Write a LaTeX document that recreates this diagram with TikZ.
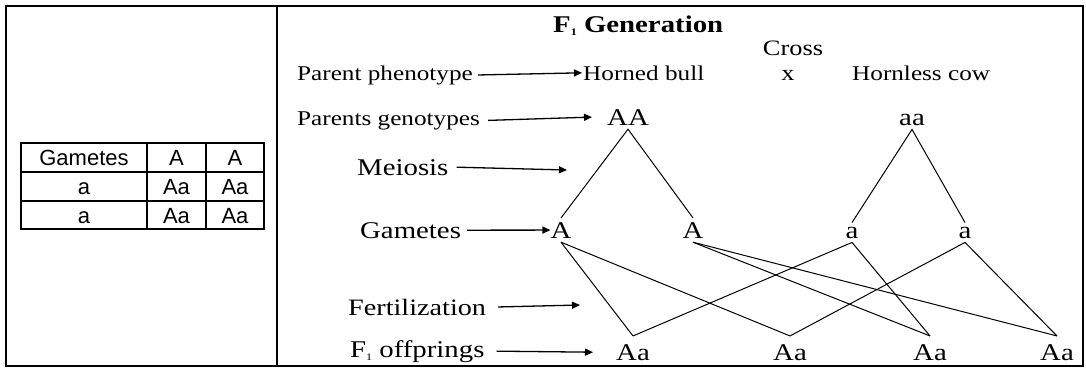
\documentclass[tikz,border=0pt]{standalone}
\usepackage{fontspec}
\setmainfont{Liberation Serif}[FakeStretch=1.2]
\newfontfamily\sansf{Liberation Sans}
\usetikzlibrary{arrows.meta}
\begin{document}
\begin{tikzpicture}[x=1pt,y=1pt,
  lbl/.style={anchor=base west, inner sep=0pt, font=\fontsize{21}{24}\selectfont},
  big/.style={font=\fontsize{24}{26}\selectfont},
  geno/.style={anchor=base, inner xsep=1pt, inner ysep=4pt, font=\fontsize{24}{26}\selectfont},
  arr/.style={-{Triangle[length=8pt,width=7pt]}, line width=1.3pt},
  ln/.style={line width=1pt},
  frame/.style={line width=2pt},
  tcell/.style={font=\sansf\fontsize{22}{24}\selectfont, anchor=base, inner sep=0pt}
]
\useasboundingbox (0,0) rectangle (1086,-367);
\draw[frame] (6,-6) rectangle (1083,-366);
\draw[frame] (277,-6) -- (277,-366);

% Punnett table
\draw[frame] (21,-143) rectangle (264,-229);
\draw[frame] (147,-143) -- (147,-229) (206,-143) -- (206,-229)
             (21,-172) -- (264,-172) (21,-201) -- (264,-201);
\node[tcell] (t11) at (84,-165) {Gametes};
\node[tcell] (t12) at (176.5,-165) {A};
\node[tcell] (t13) at (235,-165) {A};
\node[tcell] (t21) at (84,-194) {a};
\node[tcell] (t22) at (176.5,-194) {Aa};
\node[tcell] (t23) at (235,-194) {Aa};
\node[tcell] (t31) at (84,-223) {a};
\node[tcell] (t32) at (176.5,-223) {Aa};
\node[tcell] (t33) at (235,-223) {Aa};

% title and cross
\node[lbl, font=\bfseries\fontsize{24}{26}\selectfont] (title) at (553,-32)
  {F\raisebox{-3pt}{\fontsize{10}{10}\selectfont 1} Generation};
\node[geno, font=\fontsize{22}{24}\selectfont] (cross) at (793,-55) {Cross};

% rows of labels
\node[lbl] (pp) at (297,-80) {Parent phenotype};
\node[lbl] (hb) at (583,-80) {Horned bull};
\node[geno, font=\fontsize{22}{24}\selectfont] (x) at (788,-80) {x};
\node[lbl] (hc) at (852,-80) {Hornless cow};

\node[lbl] (pg) at (297,-125) {Parents genotypes};
\node[geno] (AA) at (628,-125) {AA};
\node[geno] (aa) at (912,-125) {aa};

\node[lbl, big] (mei) at (357,-175) {Meiosis};
\coordinate (meiE) at (567,-170);

\node[lbl, big] (gam) at (360,-238) {Gametes};
\node[geno] (A1) at (561,-238) {A};
\node[geno] (A2) at (693,-238) {A};
\node[geno] (a1) at (852,-238) {a};
\node[geno] (a2) at (965,-238) {a};

\node[lbl, font=\fontsize{23.5}{26}\selectfont] (fer) at (348,-315) {Fertilization};
\coordinate (ferE) at (580,-305);

\node[lbl, font=\fontsize{24}{26}\selectfont] (off) at (350,-357) {F\raisebox{-3pt}{\fontsize{10}{10}\selectfont 1} offprings};
\node[geno] (O1) at (633,-360) {Aa};
\node[geno] (O2) at (790,-360) {Aa};
\node[geno] (O3) at (930,-360) {Aa};
\node[geno] (O4) at (1057,-360) {Aa};

% arrows
\draw[arr] ([xshift=5pt]pp.east) -- ([xshift=-1pt]hb.west);
\draw[arr] ([xshift=8pt]pg.east) -- ([xshift=-14pt]AA.west);
\draw[arr] ([xshift=8pt]mei.east) -- (meiE);
\draw[arr] ([xshift=6pt]gam.east) -- ([xshift=1pt]A1.west);
\draw[arr] ([xshift=12pt]fer.east) -- (ferE);
\draw[arr] ([xshift=12pt]off.east) -- ([xshift=-22pt]O1.west);

% meiosis
\draw[ln] (A1.north) -- (AA.south) -- (A2.north);
\draw[ln] (a1.north) -- (aa.south) -- (a2.north);

% fertilization
\draw[ln] (A1.south) -- ([yshift=4pt]O1.north);
\draw[ln] (A1.south) -- ([yshift=4pt]O2.north);
\draw[ln] (A2.south) -- ([yshift=4pt]O3.north);
\draw[ln] (A2.south) -- ([yshift=4pt]O4.north);
\draw[ln] (a1.south) -- ([yshift=4pt]O1.north);
\draw[ln] (a1.south) -- ([yshift=4pt]O3.north);
\draw[ln] (a2.south) -- ([yshift=4pt]O2.north);
\draw[ln] (a2.south) -- ([yshift=4pt]O4.north);
\end{tikzpicture}
\end{document}
